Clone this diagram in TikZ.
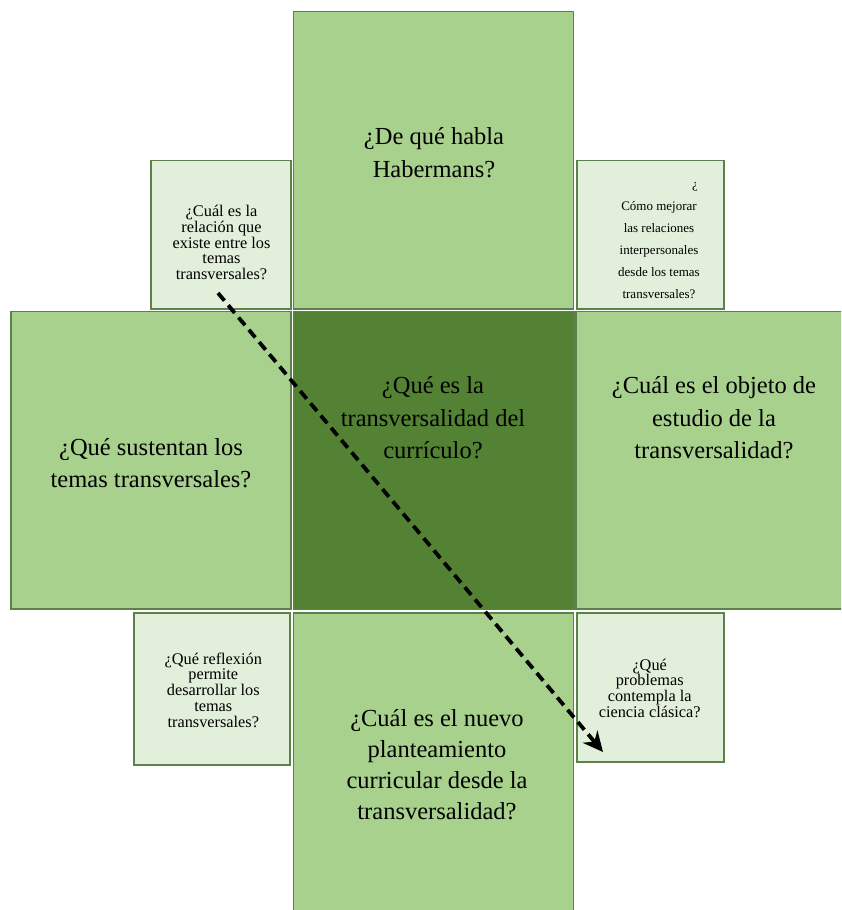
\documentclass[tikz,border=0pt]{standalone}
\usepackage{fontspec}
\setmainfont{Liberation Serif}
\usetikzlibrary{arrows.meta}
\definecolor{leaf}{HTML}{A9D18E}
\definecolor{moss}{HTML}{548235}
\definecolor{mist}{HTML}{E2EFDA}
\definecolor{rim}{HTML}{5E804A}
\begin{document}
\begin{tikzpicture}[x=1pt,y=-1pt,
  panel/.style={draw=rim, line width=1.1pt, rectangle, inner sep=0pt, outer sep=0pt},
  bigtext/.style={align=center, inner sep=0pt, font=\fontsize{24.5}{32.5}\selectfont},
  smalltext/.style={align=center, inner sep=0pt, font=\fontsize{16.3}{15.7}\selectfont},
  flow/.style={line width=3.8pt, dash pattern=on 10pt off 6pt, -{Stealth[length=20pt,width=19pt]}}]
\useasboundingbox (0,0) rectangle (841,910);
\clip (0,0) rectangle (841,910);

% large panels of the cross
\node[panel, fill=leaf, minimum width=280pt, minimum height=297.5pt] (qTop) at (433.5,160.25) {};
\node[panel, fill=moss, minimum width=280.5pt, minimum height=298pt] (qCore) at (433.75,460.5) {};
\node[panel, fill=leaf, minimum width=280pt, minimum height=297.5pt] (qLeft) at (151,460.25) {};
\node[panel, fill=leaf, minimum width=280pt, minimum height=297.5pt] (qRight) at (716,460.25) {};
\node[panel, fill=leaf, minimum width=280pt, minimum height=298pt] (qBottom) at (433.5,762) {};

% small corner panels
\node[panel, fill=mist, minimum width=140pt, minimum height=148.5pt] (sTL) at (221,234.75) {};
\node[panel, fill=mist, minimum width=147pt, minimum height=148.5pt] (sTR) at (650.5,234.75) {};
\node[panel, fill=mist, minimum width=156pt, minimum height=152pt] (sBL) at (212,689) {};
\node[panel, fill=mist, minimum width=147pt, minimum height=149pt] (sBR) at (650.5,687.5) {};

% questions
\node[bigtext] (tTop) at (434,152.5) {¿De qué habla\\Habermans?};
\node[bigtext] (tCore) at (433,418) {¿Qué es la\\transversalidad del\\currículo?};
\node[bigtext] (tLeft) at (151,463) {¿Qué sustentan los\\temas transversales?};
\node[bigtext] (tRight) at (714,418) {¿Cuál es el objeto de\\estudio de la\\transversalidad?};
\node[bigtext, font=\fontsize{24.5}{31}\selectfont] (tBottom) at (437,765) {¿Cuál es el nuevo\\planteamiento\\curricular desde la\\transversalidad?};

\node[smalltext] (tTL) at (221.5,242.5) {¿Cuál es la\\relación que\\existe entre los\\temas\\transversales?};
\node[align=center, inner sep=0pt, font=\fontsize{13}{22}\selectfont] (tTR) at (659,240.5)
  {\makebox[90pt][r]{¿\hspace*{6pt}}\\Cómo mejorar\\las relaciones\\interpersonales\\desde los temas\\transversales?};
\node[smalltext] (tBL) at (213.3,690) {¿Qué reflexión\\permite\\desarrollar los\\temas\\transversales?};
\node[smalltext] (tBR) at (649.7,688) {¿Qué\\problemas\\contempla la\\ciencia clásica?};

% dashed diagonal arrow
\coordinate (arrowTail) at (218,293);
\coordinate (arrowHead) at (603,752);
\draw[flow] (arrowTail) -- (arrowHead);
\end{tikzpicture}
\end{document}
